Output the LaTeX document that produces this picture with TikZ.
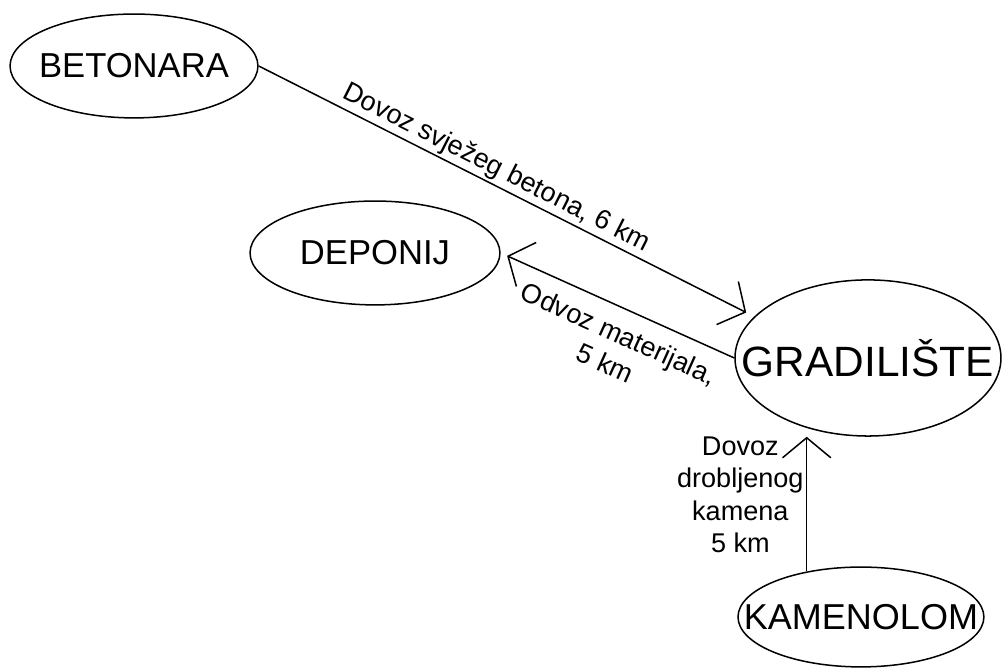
\documentclass[tikz,border=0pt]{standalone}
\usepackage{fontspec}
\setmainfont{Liberation Sans}
\usetikzlibrary{shapes.geometric,arrows.meta}

\begin{document}
\begin{tikzpicture}[
        site/.style={ellipse,draw,line width=0.64pt,inner sep=0pt},
        route/.style={line width=0.64pt,-{Straight Barb[length=8.5pt,width=20.5pt]}},
        dist/.style={font=\fontsize{11.5}{13.8}\selectfont,inner sep=1pt}
    ]
        \useasboundingbox (0,0) rectangle (15,10);
        \node[site,minimum width=3.70cm,minimum height=1.55cm,font=\fontsize{14.7}{17}\selectfont] (betonara) at (2.0,9.015) {\makebox[0pt]{BETONARA}};
        \node[site,minimum width=3.73cm,minimum height=1.55cm,font=\fontsize{14.7}{17}\selectfont] (deponij) at (5.597,6.224) {\makebox[0pt]{DEPONIJ}};
        \node[site,minimum width=3.97cm,minimum height=2.33cm,font=\fontsize{18}{21}\selectfont] (gradiliste) at (12.955,4.657) {\makebox[0pt]{GRADILIŠTE}};
        \node[site,minimum width=3.67cm,minimum height=1.49cm,font=\fontsize{15.3}{18}\selectfont] (kamenolom) at (12.85,0.791) {\makebox[0pt]{KAMENOLOM}};

        \draw[route,shorten >=3.8pt] (betonara.east) -- (gradiliste.160) node[dist,above,sloped,pos=0.465] {Dovoz svježeg betona, 6 km};
        \draw[route,shorten >=3pt] (gradiliste.west) -- (deponij.east) node[dist,below=5pt,sloped,pos=0.45,align=center] {Odvoz materijala,\\5 km};
        \draw[route] (kamenolom.140) -- (kamenolom.140 |- gradiliste.south) node[dist,left,pos=0.57,align=center] {Dovoz\\drobljenog\\kamena\\5 km};
    \end{tikzpicture}
\end{document}
